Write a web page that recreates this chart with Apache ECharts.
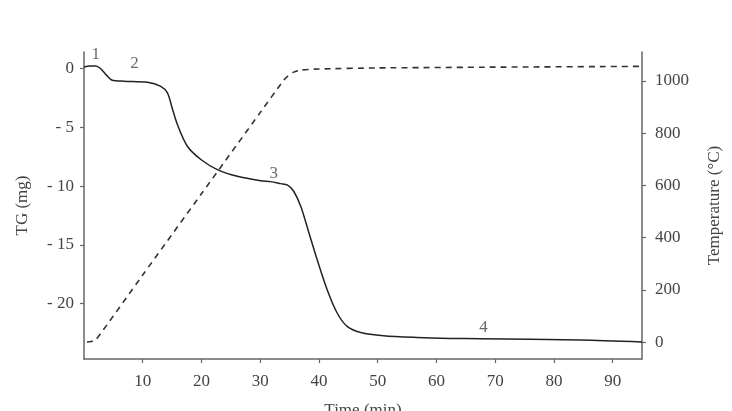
<!DOCTYPE html>
<html>
<head>
<meta charset="utf-8">
<script src="https://cdn.jsdelivr.net/npm/echarts@6/dist/echarts.min.js"></script>
<style>
  html, body { margin: 0; padding: 0; background: #fff; }
  #chart { width: 732px; height: 411px; }
</style>
</head>
<body>
<div id="chart"></div>
<script>
// TG curve (mass loss, mg)
const tgTime = [0, 1, 2, 2.8, 3.7, 4.8, 6.8, 10.8, 13.0, 14.2, 15.0, 15.9, 17.6, 19.9, 22.7, 26.1, 30.1, 31.8, 33.5, 34.6, 35.7, 36.9, 38.3, 39.7, 41.4, 43.1, 44.8, 47.1, 51.0, 56.7, 62.4, 67.5, 84.5, 95]
const tgMass = [0.12, 0.2, 0.22, 0.0, -0.5, -1.0, -1.08, -1.17, -1.5, -2.07, -3.34, -4.77, -6.61, -7.74, -8.6, -9.17, -9.55, -9.62, -9.79, -9.9, -10.44, -11.72, -13.98, -16.26, -18.81, -20.79, -21.93, -22.44, -22.72, -22.87, -22.95, -22.98, -23.09, -23.26]

// furnace temperature (°C), dashed line
const tempTime = [0.5, 1.2, 2, 10, 20, 30, 34, 34.7, 35.7, 36.9, 40, 50, 70, 95]
const tempValue = [0, 2, 8, 257, 568, 879, 1003, 1019, 1034, 1042, 1046, 1050, 1053, 1056]

// tick labels
const timeTicks = [10, 20, 30, 40, 50, 60, 70, 80, 90]
const tgTicks = [0, -5, -10, -15, -20]
const tempTicks = [0, 200, 400, 600, 800, 1000]

// stage numbers written next to the curve
const stageLabels = ['1', '2', '3', '4']
const stageTime = [2.0, 8.6, 32.3, 68]
const stageMass = [1.2, 0.4, -8.9, -22.05]

const serif = '"Liberation Serif", "DejaVu Serif", serif'
const axisColor = '#666'
const textColor = '#444'

const chart = echarts.init(document.getElementById('chart'))

const axisCommon = {
  axisLine: { show: true, onZero: false, lineStyle: { color: axisColor, width: 1.5 } },
  axisTick: { show: true, inside: false, length: 4, lineStyle: { color: axisColor, width: 1.2 } },
  splitLine: { show: false },
  nameTextStyle: { color: textColor, fontFamily: serif, fontSize: 17 }
}

const option = {
  animation: false,
  backgroundColor: '#fff',
  grid: { left: 84, right: 90, top: 52, bottom: 52, containLabel: false, outerBoundsMode: 'none' },
  xAxis: {
    ...axisCommon,
    type: 'value',
    min: 0,
    max: 95,
    name: 'Time (min)',
    nameLocation: 'middle',
    nameGap: 43,
    axisTick: { ...axisCommon.axisTick, customValues: timeTicks },
    axisLabel: {
      customValues: timeTicks,
      margin: 14,
      color: textColor,
      fontFamily: serif,
      fontSize: 17
    }
  },
  yAxis: [
    {
      ...axisCommon,
      type: 'value',
      position: 'left',
      min: -24.7,
      max: 1.4,
      name: 'TG (mg)',
      nameLocation: 'middle',
      nameRotate: 90,
      nameGap: 53,
      axisTick: { ...axisCommon.axisTick, customValues: tgTicks },
      axisLabel: {
        customValues: tgTicks,
        margin: 10,
        color: textColor,
        fontFamily: serif,
        fontSize: 17,
        formatter: (v) => (v === 0 ? '0' : '- ' + Math.abs(v))
      }
    },
    {
      ...axisCommon,
      type: 'value',
      position: 'right',
      min: -65,
      max: 1111,
      name: 'Temperature (°C)',
      nameLocation: 'middle',
      nameRotate: 90,
      nameGap: 64,
      axisTick: { ...axisCommon.axisTick, customValues: tempTicks },
      axisLabel: {
        customValues: tempTicks,
        margin: 13,
        color: textColor,
        fontFamily: serif,
        fontSize: 17,
        formatter: (v) => String(v)
      }
    }
  ],
  series: [
    {
      name: 'TG',
      type: 'line',
      yAxisIndex: 0,
      data: tgTime.map((t, i) => [t, tgMass[i]]),
      smooth: 0.3,
      showSymbol: false,
      lineStyle: { color: '#222', width: 1.5 }
    },
    {
      name: 'Temperature',
      type: 'line',
      yAxisIndex: 1,
      data: tempTime.map((t, i) => [t, tempValue[i]]),
      smooth: 0.2,
      showSymbol: false,
      lineStyle: { color: '#333', width: 1.6, type: [6, 5] }
    },
    {
      name: 'stages',
      type: 'scatter',
      yAxisIndex: 0,
      symbolSize: 0,
      data: stageTime.map((t, i) => ({ value: [t, stageMass[i]], name: stageLabels[i] })),
      label: {
        show: true,
        position: 'inside',
        formatter: (p) => p.name,
        color: textColor,
        fontFamily: serif,
        fontSize: 17
      },
      silent: true
    }
  ]
}

chart.setOption(option)
</script>
</body>
</html>
